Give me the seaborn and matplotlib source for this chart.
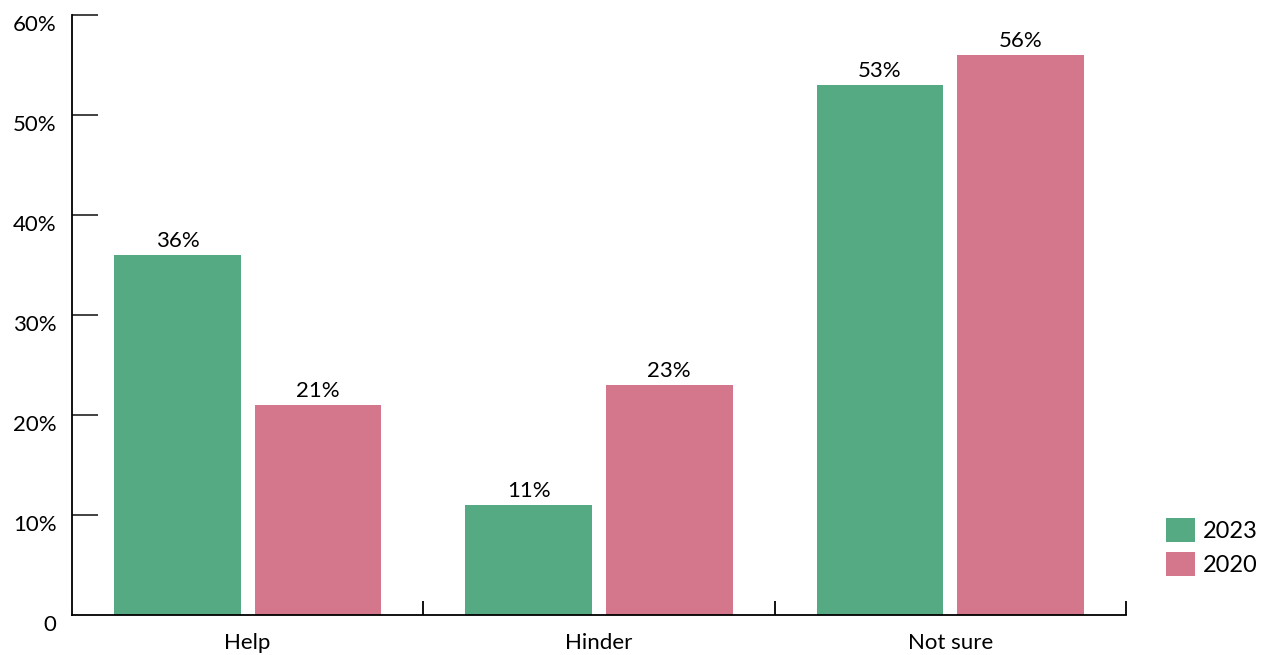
import numpy as np
import pandas as pd
import matplotlib.pyplot as plt
import seaborn as sns

# data
categories = ["Help", "Hinder", "Not sure"]
years = ["2023", "2020"]
values_2023 = [36, 11, 53]
values_2020 = [21, 23, 56]
y_ticks = [0, 10, 20, 30, 40, 50, 60]
y_tick_labels = ["0", "10%", "20%", "30%", "40%", "50%", "60%"]

df = pd.DataFrame({
    "category": categories * 2,
    "year": [years[0]] * 3 + [years[1]] * 3,
    "value": values_2023 + values_2020,
})

sns.set_theme(style="white")
plt.rcParams['font.family'] = ['Lato', 'DejaVu Sans']

palette = {"2023": "#55aa84", "2020": "#d4768c"}

fig = plt.figure(figsize=(12.67, 6.55), dpi=100)
ax = fig.add_axes([72/1267, 40/655, (1126-72)/1267, 600/655])

sns.barplot(data=df, x="category", y="value", hue="year", hue_order=years,
            order=categories, palette=palette, width=0.8, gap=0.1,
            saturation=1, linewidth=0, ax=ax, legend=True)

for c in ax.containers:
    ax.bar_label(c, fmt="%d%%", padding=3, fontsize=16, color="black")

ax.set_xlim(-0.5, 2.5)
ax.set_ylim(0, 60)
ax.set_xlabel("")
ax.set_ylabel("")

# y axis
ax.set_yticks(y_ticks)
ax.set_yticklabels(y_tick_labels, fontsize=16, va="top")
ax.tick_params(axis="y", direction="in", length=19, width=1.3, color="#333333",
               pad=11, left=True, labelcolor="black")
ax.yaxis.get_major_ticks()[0].tick1line.set_visible(False)

# x axis: labels at centres, ticks at boundaries pointing up
ax.tick_params(axis="x", which="major", length=0, pad=13, labelsize=16,
               labelcolor="black")
ax.set_xticks([0.5, 1.5, 2.5], minor=True)
ax.tick_params(axis="x", which="minor", direction="in", length=10, width=1.3,
               color="black", bottom=True)

for side in ["top", "right"]:
    ax.spines[side].set_visible(False)
for side in ["left", "bottom"]:
    ax.spines[side].set_color("black")
    ax.spines[side].set_linewidth(1.3)

leg = ax.legend(loc="center left", bbox_to_anchor=(1166/1267, 1 - 547/655),
                bbox_transform=fig.transFigure, frameon=False, fontsize=17,
                handlelength=1.23, handleheight=1.23, handletextpad=0.35,
                labelspacing=0.4, borderpad=0, borderaxespad=0)
for t in leg.get_texts():
    t.set_color("black")

fig.savefig("out.png", dpi=100)
